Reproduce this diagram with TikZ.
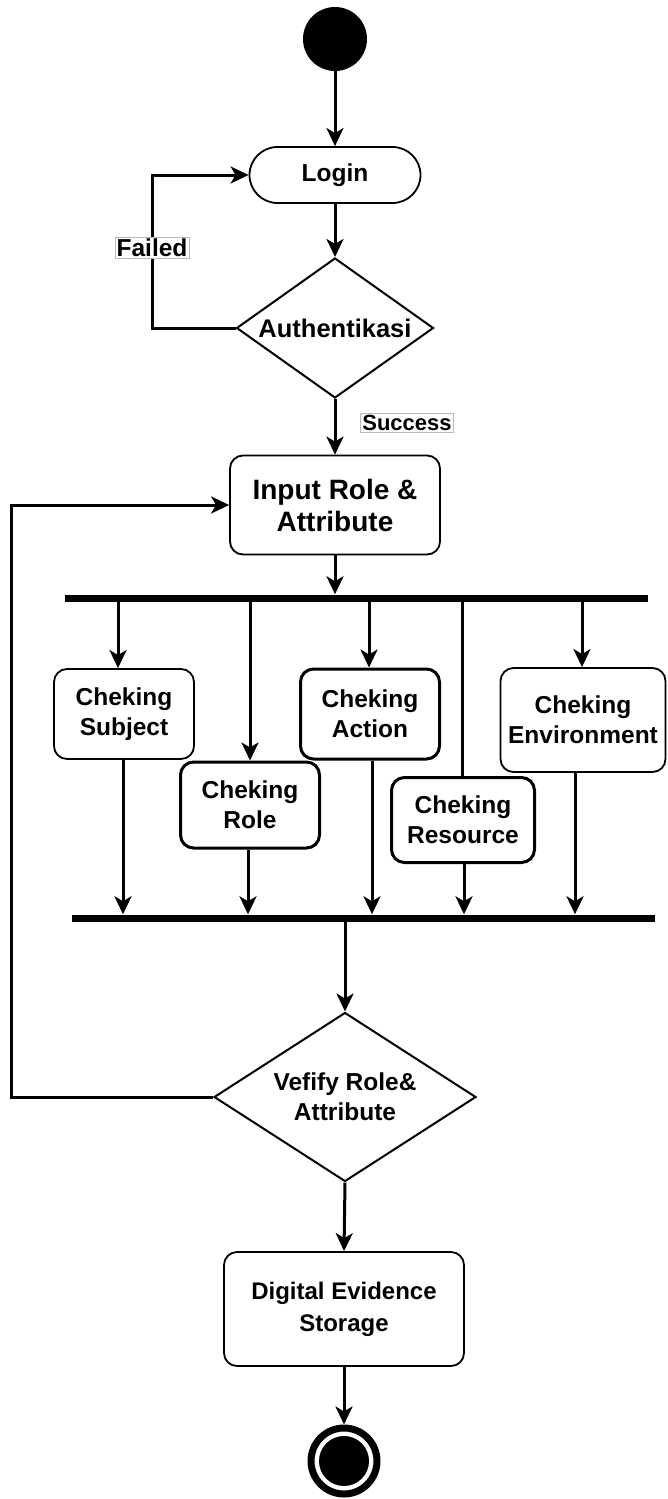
\documentclass[tikz,border=0pt]{standalone}
\usepackage{fontspec}
\setmainfont{Liberation Sans}
\usetikzlibrary{shapes.geometric, arrows.meta}
\begin{document}
\begin{tikzpicture}[x=1pt,y=-1pt,
  arr/.style={line width=3pt, -{Stealth[length=18pt,width=17pt,inset=5pt]}},
  ln/.style={line width=3pt},
  txt/.style={align=center, font=\bfseries\fontsize{24.5}{30}\selectfont},
  box/.style={draw, line width=1.8pt, rounded corners=13pt, inner sep=0pt, fill=white, txt},
  thickbox/.style={box, line width=3pt},
  dia/.style={diamond, draw, line width=2pt, inner sep=0pt, fill=white, txt},
  lbl/.style={draw=gray!55, line width=0.8pt, fill=white, inner sep=1.5pt},
  bar/.style={fill=black, inner sep=0pt, minimum height=7pt},
]
\useasboundingbox (0,0) rectangle (667,1499);

% nodes
\node (start) [circle, fill=black, minimum size=64pt, inner sep=0pt] at (335,39) {};
\node (login) [draw, line width=1.8pt, rounded corners=28pt, minimum width=171pt, minimum height=56pt, txt] at (335,175) {Login};
\node (auth) [dia, aspect=1.41, minimum width=197pt, minimum height=140pt, font=\bfseries\fontsize{25.5}{30}\selectfont] at (335,328) {Authentikasi};
\node (inp) [box, minimum width=210pt, minimum height=99pt, font=\bfseries\fontsize{28}{32}\selectfont] at (335,505) {Input Role \&\\Attribute};
\node (bar1) [bar, minimum width=583pt] at (356.5,598) {};

\node (subj) [box, minimum width=140pt, minimum height=90pt] at (124,714) {Cheking\\Subject};
\node (role) [thickbox, minimum width=139pt, minimum height=86pt] at (250,805) {Cheking\\Role};
\node (act) [thickbox, minimum width=139pt, minimum height=90pt] at (370,714) {Cheking\\Action};
\node (res) [thickbox, minimum width=143pt, minimum height=85pt] at (463,820) {Cheking\\Resource};
\node (env) [box, minimum width=165pt, minimum height=104pt] at (583,720) {Cheking\\Environment};

\node (bar2) [bar, minimum width=583pt] at (363.5,918) {};
\node (ver) [dia, aspect=1.55, minimum width=262pt, minimum height=169pt, font=\bfseries\fontsize{24.5}{30}\selectfont] at (345,1097) {Vefify Role\&\\Attribute};
\node (dig) [box, minimum width=240pt, minimum height=114pt, font=\bfseries\fontsize{24}{32}\selectfont] at (344,1309) {Digital Evidence\\Storage};
\node (end) [circle, draw, line width=7pt, fill=white, minimum size=66pt, inner sep=0pt] at (344,1461) {};
\node (endin) [circle, fill=black, minimum size=50pt, inner sep=0pt] at (end) {};

% branch coordinates
\coordinate (c1) at (118,598);
\coordinate (c2) at (250,598);
\coordinate (c3) at (369,598);
\coordinate (c4) at (462,598);
\coordinate (c5) at (582,598);
\coordinate (d1) at (123,918);
\coordinate (d2) at (248,918);
\coordinate (d3) at (372,918);
\coordinate (d4) at (464,918);
\coordinate (d5) at (575,918);
\coordinate (lf) at (152,175);
\coordinate (lb) at (11,505);

% connectors
\draw[arr] (start) -- (login);
\draw[arr] (login) -- (auth);
\draw[arr] (auth.west) -| (lf) -- (login.west);
\draw[arr] (auth.south) -- (inp.north);
\draw[arr] (inp.south) -- (inp.south |- bar1.north);

\draw[arr] (c1) -- (c1 |- subj.north);
\draw[arr] (c2) -- (c2 |- role.north);
\draw[arr] (c3) -- (c3 |- act.north);
\draw[ln] (c4) -- (c4 |- res.north);
\draw[arr] (c5) -- (c5 |- env.north);

\draw[arr] (d1 |- subj.south) -- (d1 |- bar2.north);
\draw[arr] (d2 |- role.south) -- (d2 |- bar2.north);
\draw[arr] (d3 |- act.south) -- (d3 |- bar2.north);
\draw[arr] (d4 |- res.south) -- (d4 |- bar2.north);
\draw[arr] (d5 |- env.south) -- (d5 |- bar2.north);

\draw[arr] (bar2.south -| ver.north) -- (ver.north);
\draw[arr] (ver.west) -| (lb) -- (inp.west);
\draw[arr] (ver.south) -- (dig.north);
\draw[arr] (dig.south) -- (end.north);

% redraw bars on top
\node[bar, minimum width=583pt] at (bar1) {};
\node[bar, minimum width=583pt] at (bar2) {};

% labels
\node (failed) [lbl, txt] at (152,248) {Failed};
\node (success) [lbl, font=\bfseries\fontsize{22}{25}\selectfont] at (407,423) {Success};
\end{tikzpicture}
\end{document}
